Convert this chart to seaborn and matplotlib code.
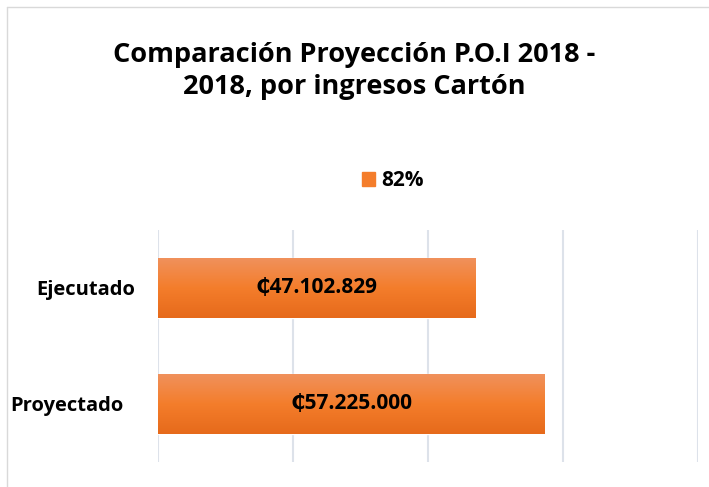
import numpy as np
import pandas as pd
import matplotlib

matplotlib.use("Agg")

import matplotlib.pyplot as plt
import matplotlib.transforms as mtransforms
import seaborn as sns
from matplotlib.colors import LinearSegmentedColormap
from matplotlib.lines import Line2D

categories = ["Ejecutado", "Proyectado"]
values = [47102829, 57225000]
bar_labels = ["\u20b547.102.829", "\u20b557.225.000"]
series_name = "82%"
title = "Comparación Proyección P.O.I 2018 -\n2018, por ingresos Cartón"

sns.set_style("white")
plt.rcParams['font.family'] = ['Open Sans', 'DejaVu Sans']
plt.rcParams['text.color'] = 'black'
plt.rcParams['ytick.color'] = 'black'

df = pd.DataFrame({"categoria": categories, "valor": values})

W, H = 709, 487
fig = plt.figure(figsize=(W / 100, H / 100), dpi=100)
ax = fig.add_axes([158 / W, 1 - 462 / H, 540 / W, 232 / H])

sns.barplot(data=df, x="valor", y="categoria", color="#F47D2B", width=0.51, ax=ax)

ax.set_xlim(0, 80e6)
ax.set_ylim(1.5, -0.5)
ax.set_xticks(np.arange(0, 80e6 + 1, 20e6))
ax.tick_params(axis='x', labelbottom=False, length=0)
ax.tick_params(axis='y', length=0, pad=52, labelcolor='black')
ax.grid(axis='x', color='#DDE2EA', linewidth=1.5)
ax.set_axisbelow(True)
for s in ax.spines.values():
    s.set_visible(False)
ax.set_xlabel("")
ax.set_ylabel("")
# Excel places the category labels slightly differently
shifts = [0, -18.5]
for lab, dx in zip(ax.get_yticklabels(), shifts):
    lab.set_horizontalalignment('center')
    lab.set_fontweight('bold')
    lab.set_fontsize(14.5)
    lab.set_transform(lab.get_transform() +
                      mtransforms.ScaledTranslation(dx / 100, 0, fig.dpi_scale_trans))

# gradient fill on bars
cmap = LinearSegmentedColormap.from_list("naranja", ["#F0915C", "#F47D2B", "#E66A1B"])
grad = np.linspace(0, 1, 256).reshape(-1, 1)
for p, txt in zip(ax.patches, bar_labels):
    x0, y0 = p.get_x(), p.get_y()
    w, h = p.get_width(), p.get_height()
    im = ax.imshow(grad, cmap=cmap, aspect='auto', extent=(x0, x0 + w, y0 + h, y0),
                   zorder=p.get_zorder() + 0.1)
    im.set_clip_path(p)
    ax.text(x0 + w / 2, y0 + h / 2, txt, ha='center', va='center',
            fontsize=15, fontweight='bold', color='black', zorder=5)
ax.set_xlim(0, 80e6)
ax.set_ylim(1.5, -0.5)

fig.legend(handles=[plt.Rectangle((0, 0), 1, 1, color="#F47D2B")], labels=[series_name],
           loc='center', bbox_to_anchor=(393 / W, 1 - 181 / H), frameon=False,
           handlelength=0.65, handleheight=0.65, handletextpad=0.3,
           prop={'weight': 'bold', 'size': 15})

fig.text(0.5, 1 - 71 / H, title, ha='center', va='center', fontsize=19.5,
         fontweight='bold', linespacing=1.3, color='black')

# chart border
fig.add_artist(Line2D([7 / W, 7 / W], [0, 1 - 7 / H], color='#D9D9D9', linewidth=1))
fig.add_artist(Line2D([7 / W, 1], [1 - 7 / H, 1 - 7 / H], color='#D9D9D9', linewidth=1))

fig.savefig("out.png", dpi=100)
